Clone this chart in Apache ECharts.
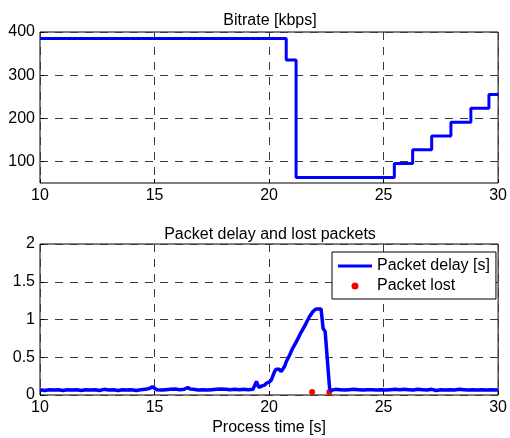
<!DOCTYPE html>
<html lang="en">
<head>
    <meta charset="utf-8">
    <title>Bitrate and packet delay</title>
    <script src="https://cdn.jsdelivr.net/npm/echarts@6/dist/echarts.min.js"></script>
    <style>
        html, body { margin: 0; padding: 0; background: #fff; }
        #main { width: 510px; height: 438px; }
    </style>
</head>
<body>
<div id="main"></div>
<script>
// 码率阶梯 (s, kbps)
var bitrateT = [10, 20.75, 21.18, 25.47, 26.27, 27.1, 27.94, 28.81, 29.6, 30];
var bitrateV = [385, 335, 63, 95, 127, 159, 191, 223, 255, 255];

// 包延迟 (s, s)
var delayT = [10.0, 10.2, 10.4, 10.6, 10.8, 11.0, 11.2, 11.4, 11.6, 11.8,
    12.0, 12.2, 12.4, 12.6, 12.8, 13.0, 13.2, 13.4, 13.6, 13.8,
    14.0, 14.2, 14.4, 14.6, 14.8, 14.9, 15.0, 15.1, 15.3, 15.5,
    15.7, 15.9, 16.1, 16.3, 16.45, 16.55, 16.7, 16.9, 17.1, 17.3,
    17.5, 17.7, 17.9, 18.1, 18.3, 18.5, 18.7, 18.9, 19.1, 19.3,
    19.38, 19.45, 19.5, 19.55, 19.62, 19.7, 19.8, 19.9, 20.0, 20.1,
    20.17, 20.24, 20.31, 20.38, 20.45, 20.53, 20.6, 20.68, 20.75, 20.9,
    21.0, 21.2, 21.4, 21.6, 21.75, 21.9, 22.0, 22.1, 22.27, 22.32,
    22.36, 22.45, 22.55, 22.64, 22.68, 22.75, 22.9, 23.1, 23.3, 23.5,
    23.7, 23.9, 24.1, 24.3, 24.5, 24.7, 24.9, 25.1, 25.3, 25.5,
    25.7, 25.9, 26.1, 26.3, 26.5, 26.7, 26.9, 27.1, 27.3, 27.5,
    27.7, 27.9, 28.1, 28.3, 28.5, 28.7, 28.9, 29.1, 29.3, 29.5,
    29.7, 29.9, 30.0];
var delayV = [0.07, 0.06, 0.07, 0.065, 0.07, 0.06, 0.07, 0.065, 0.07, 0.06,
    0.07, 0.065, 0.07, 0.06, 0.075, 0.065, 0.07, 0.06, 0.07, 0.065,
    0.07, 0.06, 0.07, 0.075, 0.09, 0.11, 0.09, 0.07, 0.065, 0.07,
    0.075, 0.08, 0.07, 0.075, 0.1, 0.08, 0.075, 0.065, 0.07, 0.065,
    0.07, 0.075, 0.08, 0.075, 0.07, 0.075, 0.07, 0.075, 0.07, 0.075,
    0.1, 0.18, 0.19, 0.1, 0.09, 0.12, 0.13, 0.16, 0.17, 0.2,
    0.2, 0.31, 0.34, 0.35, 0.34, 0.31, 0.33, 0.38, 0.44, 0.53,
    0.6, 0.71, 0.83, 0.94, 1.03, 1.1, 1.13, 1.14, 1.14, 1.0,
    0.88, 0.84, 0.45, 0.1, 0.06, 0.07, 0.075, 0.07, 0.065, 0.07,
    0.075, 0.07, 0.065, 0.07, 0.07, 0.065, 0.07, 0.065, 0.07, 0.075,
    0.07, 0.075, 0.07, 0.065, 0.075, 0.07, 0.065, 0.075, 0.06, 0.07,
    0.065, 0.07, 0.065, 0.075, 0.07, 0.065, 0.07, 0.065, 0.07, 0.065,
    0.07, 0.065, 0.07];

// 丢包
var lostT = [21.88, 22.63];
var lostV = [0.04, 0.04];

var bitrateTicks = [100, 200, 300, 400];

function zip(a, b) {
    var out = [];
    for (var i = 0; i < a.length; i++) out.push([a[i], b[i]]);
    return out;
}

var FONT = 'Liberation Sans, Arial, sans-serif';
// MATLAB 风格虚线网格
var gridLine = { show: true, lineStyle: { color: '#3a3a3a', type: [8, 7], width: 1 } };

function xAxis(idx, name) {
    return {
        type: 'value', gridIndex: idx, min: 10, max: 30, interval: 5,
        name: name || '', nameLocation: 'middle', nameGap: 25,
        nameTextStyle: { color: '#000', fontSize: 16, fontFamily: FONT },
        axisLine: { show: false },
        axisTick: { show: true, inside: true, length: 4, lineStyle: { color: '#000' } },
        axisLabel: { color: '#000', fontSize: 16, fontFamily: FONT, margin: 5 },
        splitLine: gridLine
    };
}

var myChart = echarts.init(document.getElementById('main'));
var option = {
    animation: false,
    backgroundColor: '#fff',
    title: [
        { text: 'Bitrate [kbps]', left: 270, top: 13, textAlign: 'center', padding: 0,
          textStyle: { color: '#000', fontSize: 16, fontWeight: 'normal', fontFamily: FONT } },
        { text: 'Packet delay and lost packets', left: 270, top: 227, textAlign: 'center', padding: 0,
          textStyle: { color: '#000', fontSize: 16, fontWeight: 'normal', fontFamily: FONT } }
    ],
    grid: [
        { left: 40, top: 32, width: 460, height: 151, show: true, borderColor: '#000', borderWidth: 1, backgroundColor: 'transparent' },
        { left: 40, top: 244, width: 460, height: 151, show: true, borderColor: '#000', borderWidth: 1, backgroundColor: 'transparent' }
    ],
    legend: {
        left: 332, top: 252, orient: 'vertical',
        backgroundColor: '#fff', borderColor: '#000', borderWidth: 1, borderRadius: 0,
        padding: [4, 6, 3, 6], itemGap: 0, itemWidth: 34, itemHeight: 7, itemTextGap: 3,
        symbolKeepAspect: true,
        textStyle: { color: '#000', fontSize: 16, fontFamily: FONT, lineHeight: 20 },
        data: [
            { name: 'Packet delay [s]', icon: 'path://M0,0 L34,0 L34,3 L0,3 Z', itemStyle: { color: '#0000ff' } },
            { name: 'Packet lost', icon: 'circle' }
        ]
    },
    xAxis: [xAxis(0), xAxis(1, 'Process time [s]')],
    yAxis: [
        {
            type: 'value', gridIndex: 0, min: 50, max: 400,
            axisLine: { show: false },
            axisTick: { show: true, inside: true, length: 4, customValues: bitrateTicks, lineStyle: { color: '#000' } },
            axisLabel: { color: '#000', fontSize: 16, fontFamily: FONT, margin: 5, customValues: bitrateTicks },
            splitLine: gridLine
        },
        {
            type: 'value', gridIndex: 1, min: 0, max: 2, interval: 0.5,
            axisLine: { show: false },
            axisTick: { show: true, inside: true, length: 4, lineStyle: { color: '#000' } },
            axisLabel: { color: '#000', fontSize: 16, fontFamily: FONT, margin: 5 },
            splitLine: gridLine
        }
    ],
    series: [
        {
            name: 'Bitrate', type: 'line', xAxisIndex: 0, yAxisIndex: 0,
            step: 'end', symbol: 'none',
            lineStyle: { color: '#0000ff', width: 3 },
            data: zip(bitrateT, bitrateV)
        },
        {
            name: 'Packet delay [s]', type: 'line', xAxisIndex: 1, yAxisIndex: 1,
            symbol: 'none', color: '#0000ff',
            lineStyle: { color: '#0000ff', width: 3.5 },
            data: zip(delayT, delayV)
        },
        {
            name: 'Packet lost', type: 'scatter', xAxisIndex: 1, yAxisIndex: 1,
            symbol: 'circle', symbolSize: 6, itemStyle: { color: '#ff0000', opacity: 1 },
            data: zip(lostT, lostV)
        }
    ]
};
myChart.setOption(option);
</script>
</body>
</html>
